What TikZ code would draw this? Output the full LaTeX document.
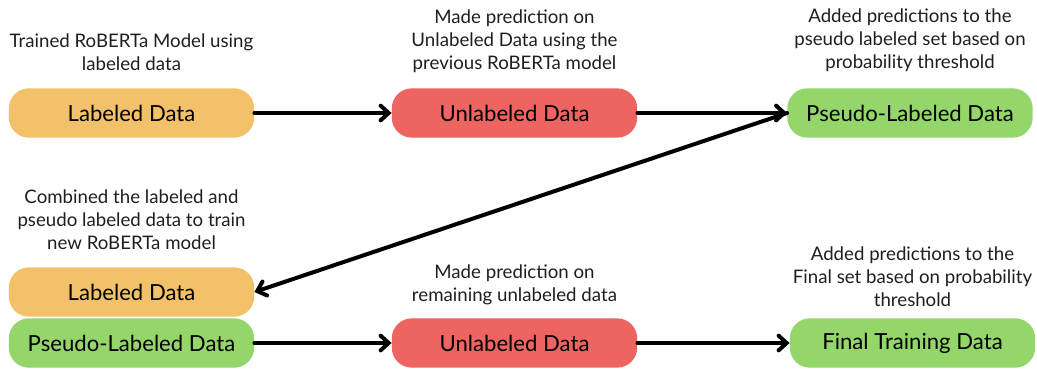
\documentclass[tikz,border=0pt]{standalone}
\usepackage{fontspec}
\setmainfont{Lato}
\usetikzlibrary{arrows.meta}
\definecolor{orng}{HTML}{F4C16B}
\definecolor{redb}{HTML}{EE6461}
\definecolor{grnb}{HTML}{94D66A}
\begin{document}
\begin{tikzpicture}[x=0.75pt,y=-0.75pt,
  databox/.style={rounded corners=15pt,minimum width=184pt,minimum height=37pt,inner sep=0pt,font=\fontsize{16.6}{19}\selectfont,text=black},
  note/.style={align=center,font=\fontsize{14}{17.3}\selectfont,text=black!88,inner sep=0pt},
  flow/.style={line width=3pt,-{Straight Barb[length=6pt,width=11pt,line cap=round]},line cap=round}]
\useasboundingbox (0,0) rectangle (1037,368);
\node[databox,fill=orng] (ld1) at (131.5,113) {Labeled Data};
\node[databox,fill=redb] (ud1) at (514.5,113) {Unlabeled Data};
\node[databox,fill=grnb] (pl1) at (910,113) {Pseudo-Labeled Data};
\node[databox,fill=orng] (ld2) at (131.5,292) {Labeled Data};
\node[databox,fill=grnb] (pl2) at (131.5,343) {Pseudo-Labeled Data};
\node[databox,fill=redb] (ud2) at (514.5,343) {Unlabeled Data};
\node[databox,fill=grnb] (fd) at (912.5,343) {Final Training Data};
\node[note] (n1) at (131.5,52) {Trained RoBERTa Model using\\labeled data};
\node[note] (n2) at (514.5,41) {Made prediction on\\Unlabeled Data using the\\previous RoBERTa model};
\node[note] (n3) at (910,40) {Added predictions to the\\pseudo labeled set based on\\probability threshold};
\node[note] (n4) at (131.5,220) {Combined the labeled and\\pseudo labeled data to train\\new RoBERTa model};
\node[note] (n5) at (514.5,284.5) {Made prediction on\\remaining unlabeled data};
\node[note] (n6) at (912.5,277) {Added predictions to the\\Final set based on probability\\threshold};
\draw[flow] (ld1.east) -- (ud1.west);
\draw[flow] (ud1.east) -- (pl1.west);
\draw[flow] (pl1.west) -- (ld2.east);
\draw[flow] (pl2.east) -- (ud2.west);
\draw[flow] (ud2.east) -- (fd.west);
\end{tikzpicture}
\end{document}
